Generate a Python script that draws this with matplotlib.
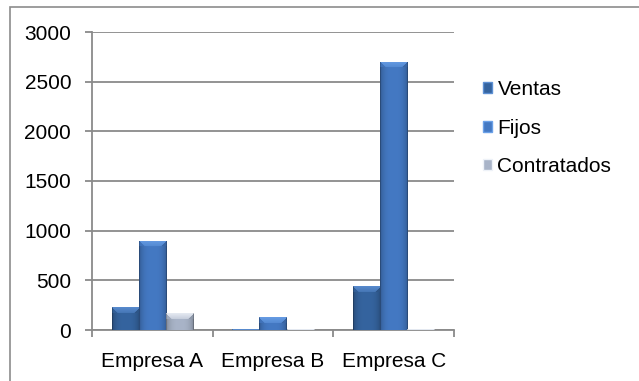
import numpy as np
import matplotlib
matplotlib.use("Agg")
import matplotlib.pyplot as plt
from matplotlib.patches import Rectangle, Patch
from matplotlib.colors import to_rgb

categories = ["Empresa A", "Empresa B", "Empresa C"]
series_names = ["Ventas", "Fijos", "Contratados"]
ventas = [230, 10, 440]
fijos = [900, 130, 2700]
contratados = [170, 10, 10]
y_ticks = [0, 500, 1000, 1500, 2000, 2500, 3000]

series_values = [ventas, fijos, contratados]
face_colors = ["#35649f", "#4479c3", "#a9b4c8"]
cap_colors = ["#5d90d4", "#6ba1e8", "#eef2f8"]

W, H, DPI = 639, 381, 100
FS = 15
plt.rcParams["font.family"] = ["Liberation Sans", "DejaVu Sans"]

fig = plt.figure(figsize=(W / DPI, H / DPI), dpi=DPI)
ax = fig.add_axes([92 / W, 1 - 330 / H, (454 - 92) / W, (330 - 32) / H])

# outer chart frame (top and left edges visible)
fig.patches.append(Rectangle((10 / W, -0.1), 1.2, 1 - 7 / H + 0.1,
                             transform=fig.transFigure, fill=False,
                             edgecolor="#8c8c8c", linewidth=1.2, zorder=0))

ymax = 3000
bar_w = 0.225
x = np.arange(len(categories))
px_per_unit = (330 - 32) / ymax
bar_px_w = int(round(bar_w * (454 - 92) / 3))


def shaded_bar(face, cap, hpx, wpx):
    face = np.array(to_rgb(face))
    cap = np.array(to_rgb(cap))
    hpx = max(hpx, 1)
    t = np.linspace(-1, 1, wpx)
    prof = 1.0 - 0.22 * np.abs(t) ** 3
    img = np.ones((hpx, wpx, 3)) * face[None, None, :] * prof[None, :, None]
    capn = min(6, hpx)
    for r in range(capn):
        lo, hi = r, wpx - r
        if hi > lo:
            mix = 0.85 - 0.08 * r
            img[r, lo:hi] = cap * mix + face * (1 - mix)
        img[r, :lo] = face * 0.95
        img[r, hi:] = face * 0.85
    # darker outline on the sides
    img[:, 0] *= 0.8
    img[:, -1] *= 0.8
    return np.clip(img, 0, 1)


for i, (vals, fc, cc) in enumerate(zip(series_values, face_colors, cap_colors)):
    pos = x + (i - 1) * bar_w
    bars = ax.bar(pos, vals, width=bar_w, color=fc, zorder=3, linewidth=0)
    for b, v in zip(bars, vals):
        hpx = int(round(v * px_per_unit))
        img = shaded_bar(fc, cc, hpx, bar_px_w)
        im = ax.imshow(img, extent=(b.get_x(), b.get_x() + b.get_width(), 0, v),
                       aspect="auto", interpolation="bilinear", zorder=4,
                       origin="upper")
        im.set_clip_path(b)

ax.set_xlim(-0.5, len(categories) - 0.5)
ax.set_ylim(0, ymax)

ax.set_yticks(y_ticks)
ax.set_yticklabels([str(t) for t in y_ticks])
ax.yaxis.grid(True, color="#8a8a8a", linewidth=1.3, zorder=1)
ax.set_axisbelow(True)

ax.set_xticks(x)
ax.set_xticklabels(categories)
ax.set_xticks(np.arange(len(categories) + 1) - 0.5, minor=True)
ax.tick_params(axis="x", which="major", length=0, pad=15.5, labelsize=FS)
ax.tick_params(axis="x", which="minor", length=5, width=1.3, color="#8a8a8a",
               direction="out")
ax.tick_params(axis="y", length=5, width=1.3, color="#8a8a8a", pad=10,
               labelsize=FS)

for s in ["top", "right"]:
    ax.spines[s].set_visible(False)
for s in ["left", "bottom"]:
    ax.spines[s].set_color("#8a8a8a")
    ax.spines[s].set_linewidth(1.3)

handles = [Patch(facecolor=fc, edgecolor=cc, linewidth=1.0)
           for fc, cc in zip(face_colors, cap_colors)]
leg = fig.legend(handles, series_names, loc="upper left",
                 bbox_to_anchor=(475 / W, 1 - 72 / H), frameon=False,
                 fontsize=FS, handlelength=0.43, handleheight=0.43,
                 handletextpad=0.25, labelspacing=0.92, borderaxespad=0)

fig.savefig("out.png", dpi=DPI)
